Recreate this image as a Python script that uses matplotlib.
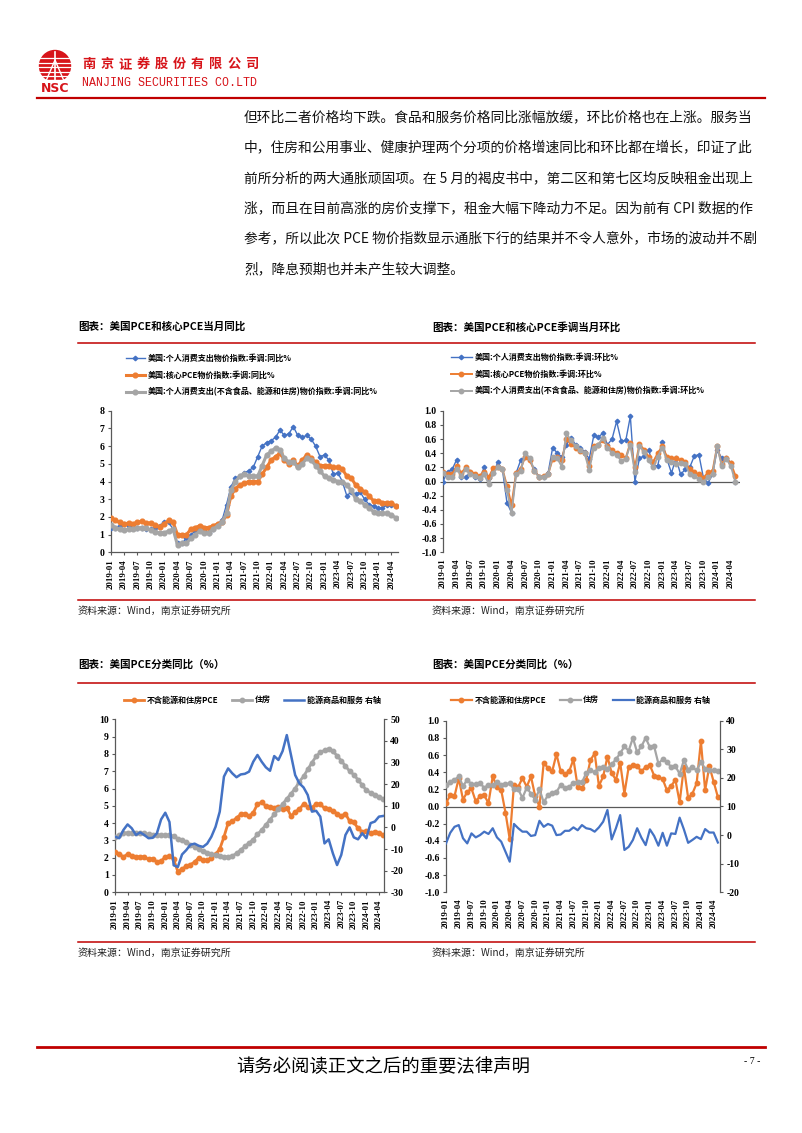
import matplotlib
matplotlib.use('Agg')
import matplotlib.pyplot as plt
from matplotlib.patches import Circle
import numpy as np

W, H = 802, 1133
fig = plt.figure(figsize=(8.02, 11.33), dpi=100)

CJK = ['Noto Sans CJK SC', 'DejaVu Sans']
SERIF = ['Liberation Serif', 'DejaVu Serif']
RED = '#C00000'
BLUE = '#4472C4'
ORANGE = '#ED7D31'
GRAY = '#A5A5A5'
AX = '#595959'

# ---------------- data ----------------
tick_labels = ['2019-01', '2019-04', '2019-07', '2019-10', '2020-01', '2020-04', '2020-07',
               '2020-10', '2021-01', '2021-04', '2021-07', '2021-10', '2022-01', '2022-04',
               '2022-07', '2022-10', '2023-01', '2023-04', '2023-07', '2023-10', '2024-01',
               '2024-04']
mom_ticks = [-1.0, -0.8, -0.6, -0.4, -0.2, 0.0, 0.2, 0.4, 0.6, 0.8, 1.0]

# chart 1: YoY %
pce_yoy = [1.4, 1.4, 1.5, 1.6, 1.5, 1.4, 1.4, 1.4, 1.3, 1.3, 1.4, 1.5,
           1.7, 1.7, 1.3, 0.5, 0.5, 0.8, 1.0, 1.2, 1.3, 1.2, 1.1, 1.3,
           1.6, 1.8, 2.7, 3.7, 4.2, 4.3, 4.5, 4.6, 4.8, 5.4, 6.0, 6.2,
           6.3, 6.5, 6.9, 6.6, 6.7, 7.1, 6.6, 6.5, 6.6, 6.4, 6.0, 5.4,
           5.5, 5.2, 4.4, 4.5, 4.0, 3.2, 3.4, 3.3, 3.4, 3.0, 2.7, 2.6,
           2.5, 2.5, 2.7, 2.7, 2.6]
core_yoy = [1.95, 1.8, 1.7, 1.6, 1.65, 1.6, 1.7, 1.75, 1.65, 1.65, 1.55, 1.45,
            1.6, 1.8, 1.7, 1.0, 1.0, 1.0, 1.3, 1.4, 1.5, 1.4, 1.4, 1.5,
            1.6, 1.7, 2.1, 3.2, 3.6, 3.8, 3.9, 4.0, 4.0, 4.0, 4.4, 4.8,
            5.2, 5.4, 5.6, 5.2, 5.0, 5.2, 4.9, 5.2, 5.5, 5.3, 5.1, 4.9,
            4.9, 4.9, 4.8, 4.8, 4.7, 4.3, 4.2, 3.8, 3.6, 3.4, 3.2, 2.9,
            2.9, 2.8, 2.8, 2.8, 2.6]
super_yoy = [1.55, 1.4, 1.3, 1.25, 1.3, 1.3, 1.35, 1.4, 1.35, 1.25, 1.15, 1.1,
             1.1, 1.2, 1.3, 0.4, 0.5, 0.5, 0.8, 1.0, 1.2, 1.1, 1.1, 1.3,
             1.5, 1.7, 2.2, 3.5, 4.0, 4.3, 4.4, 4.3, 4.3, 4.3, 4.9, 5.5,
             5.7, 5.9, 5.8, 5.3, 5.1, 5.1, 4.8, 5.0, 5.3, 5.2, 4.9, 4.6,
             4.3, 4.2, 4.1, 4.0, 4.0, 3.8, 3.5, 3.0, 2.9, 2.7, 2.5, 2.3,
             2.2, 2.2, 2.2, 2.1, 1.95]

# chart 2: MoM %
pce_mom = [0.00, 0.14, 0.17, 0.31, 0.06, 0.06, 0.14, 0.07, 0.03, 0.20, 0.05, 0.12,
           0.27, 0.17, -0.30, -0.44, 0.12, 0.30, 0.34, 0.30, 0.17, 0.07, 0.07, 0.12,
           0.48, 0.40, 0.35, 0.52, 0.62, 0.52, 0.48, 0.42, 0.32, 0.65, 0.63, 0.68,
           0.52, 0.60, 0.85, 0.57, 0.58, 0.92, 0.00, 0.33, 0.36, 0.45, 0.22, 0.22,
           0.56, 0.32, 0.12, 0.33, 0.10, 0.17, 0.20, 0.36, 0.38, 0.05, -0.02, 0.10,
           0.45, 0.33, 0.33, 0.26, 0.00]
core_mom = [0.14, 0.10, 0.10, 0.22, 0.12, 0.20, 0.14, 0.11, 0.08, 0.14, 0.06, 0.19,
            0.20, 0.18, -0.06, -0.33, 0.12, 0.18, 0.35, 0.30, 0.15, 0.07, 0.08, 0.10,
            0.32, 0.35, 0.30, 0.60, 0.53, 0.48, 0.43, 0.40, 0.22, 0.50, 0.52, 0.58,
            0.50, 0.45, 0.40, 0.38, 0.33, 0.55, 0.20, 0.53, 0.45, 0.35, 0.28, 0.40,
            0.50, 0.35, 0.33, 0.33, 0.30, 0.28, 0.17, 0.13, 0.10, 0.05, 0.13, 0.15,
            0.50, 0.25, 0.33, 0.26, 0.08]
super_mom = [0.12, 0.07, 0.06, 0.18, 0.08, 0.18, 0.10, 0.08, 0.05, 0.10, -0.03, 0.12,
             0.20, 0.18, -0.12, -0.45, 0.10, 0.15, 0.40, 0.33, 0.15, 0.06, 0.07, 0.10,
             0.35, 0.33, 0.21, 0.68, 0.58, 0.50, 0.45, 0.40, 0.16, 0.48, 0.52, 0.62,
             0.48, 0.40, 0.38, 0.29, 0.32, 0.52, 0.13, 0.50, 0.42, 0.30, 0.20, 0.35,
             0.48, 0.30, 0.28, 0.25, 0.26, 0.25, 0.10, 0.08, 0.03, 0.00, 0.06, 0.10,
             0.50, 0.22, 0.32, 0.22, -0.01]

# chart 3: category YoY %
exh_yoy = [2.35, 2.2, 2.05, 2.2, 2.1, 2.05, 2.05, 2.05, 1.9, 1.95, 1.75, 1.8,
           2.05, 2.1, 1.9, 1.2, 1.35, 1.5, 1.6, 1.75, 2.0, 1.85, 1.85, 2.0,
           2.2, 2.5, 3.2, 4.0, 4.1, 4.3, 4.5, 4.55, 4.4, 4.6, 5.1, 5.2,
           5.0, 4.95, 4.9, 4.95, 4.8, 4.9, 4.4, 4.65, 4.8, 5.1, 4.95, 4.9,
           5.1, 5.1, 4.85, 4.8, 4.7, 4.55, 4.4, 4.55, 4.1, 4.05, 3.7, 3.5,
           3.55, 3.4, 3.5, 3.4, 3.3]
housing_yoy = [3.2, 3.3, 3.4, 3.45, 3.4, 3.4, 3.4, 3.4, 3.35, 3.3, 3.3, 3.3,
               3.3, 3.3, 3.25, 3.1, 3.0, 2.9, 2.75, 2.6, 2.5, 2.4, 2.3, 2.2,
               2.15, 2.1, 2.05, 2.05, 2.1, 2.25, 2.45, 2.65, 2.85, 3.05, 3.35, 3.6,
               3.9, 4.2, 4.5, 4.8, 5.1, 5.4, 5.7, 6.0, 6.4, 6.7, 7.1, 7.5,
               7.85, 8.1, 8.2, 8.3, 8.15, 7.9, 7.6, 7.3, 7.0, 6.8, 6.5, 6.2,
               5.9, 5.75, 5.65, 5.5, 5.4]
energy_yoy = [-4.3, -5.0, -1.2, 1.4, -0.4, -3.5, -2.3, -3.5, -5.0, -4.8, -2.7, 3.7,
              6.8, 2.5, -17.5, -18.3, -12.5, -10.5, -8.0, -7.5, -8.5, -9.0, -7.5, -4.3,
              0.3, 7.3, 23.5, 27.3, 25.0, 23.2, 24.5, 24.8, 25.8, 30.4, 33.5, 30.4,
              27.8, 26.2, 33.0, 31.2, 35.3, 42.7, 33.5, 24.2, 20.4, 18.5, 15.0, 7.3,
              7.7, 5.0, -7.4, -5.5, -12.0, -17.4, -12.7, -3.5, 0.0, -4.6, -5.5, -2.7,
              -5.0, 2.0, 2.7, 5.0, 5.3]

# chart 4: category MoM %
exh_mom = [0.04, 0.13, 0.12, 0.33, 0.08, 0.17, 0.21, 0.06, 0.12, 0.13, 0.04, 0.35,
           0.23, 0.19, -0.07, -0.38, 0.25, 0.23, 0.33, 0.23, 0.35, 0.12, 0.00, 0.51,
           0.45, 0.41, 0.61, 0.41, 0.38, 0.41, 0.55, 0.23, 0.21, 0.31, 0.54, 0.62,
           0.24, 0.35, 0.58, 0.39, 0.31, 0.51, 0.15, 0.46, 0.48, 0.47, 0.41, 0.46,
           0.48, 0.36, 0.34, 0.32, 0.19, 0.24, 0.31, 0.05, 0.46, 0.10, 0.15, 0.27,
           0.76, 0.19, 0.47, 0.29, 0.11]
housing_mom = [0.25, 0.29, 0.31, 0.35, 0.24, 0.31, 0.26, 0.26, 0.27, 0.22, 0.25, 0.25,
               0.28, 0.25, 0.26, 0.27, 0.20, 0.20, 0.10, 0.22, 0.15, 0.08, 0.20, 0.05,
               0.13, 0.16, 0.17, 0.25, 0.22, 0.23, 0.27, 0.29, 0.28, 0.39, 0.42, 0.40,
               0.45, 0.46, 0.44, 0.49, 0.55, 0.62, 0.70, 0.65, 0.80, 0.63, 0.70, 0.80,
               0.69, 0.70, 0.50, 0.55, 0.52, 0.46, 0.47, 0.38, 0.54, 0.43, 0.46, 0.42,
               0.52, 0.44, 0.42, 0.42, 0.41]
energy_mom = [-2.9, 0.8, 2.9, 3.5, -1.1, -2.9, 0.6, -0.8, 0.0, 1.2, 0.4, 2.4,
              -0.8, -2.3, -5.8, -9.3, 3.9, 2.4, 1.2, 1.2, -0.3, 0.0, 5.0, 2.9,
              3.9, 3.3, 0.0, 0.2, 1.5, 1.5, 2.7, 1.7, 3.5, 2.4, 2.1, 1.2,
              2.7, 4.7, 8.8, -1.5, 2.4, 7.0, -5.2, -4.1, -1.7, 2.4, -0.9, -3.5,
              2.0, -0.3, -3.7, 0.8, -3.7, 0.6, 0.4, 6.1, 2.0, -2.7, -1.7, -0.6,
              -1.4, 2.1, 0.9, 0.9, -2.6]

# legend labels
leg1 = ['美国:个人消费支出物价指数:季调:同比%', '美国:核心PCE物价指数:季调:同比%',
        '美国:个人消费支出(不含食品、能源和住房)物价指数:季调:同比%']
leg2 = ['美国:个人消费支出物价指数:季调:环比%', '美国:核心PCE物价指数:季调:环比%',
        '美国:个人消费支出(不含食品、能源和住房)物价指数:季调:环比%']
leg3 = ['不含能源和住房PCE', '住房', '能源商品和服务 右轴']

body_lines = [
    '但环比二者价格均下跌。食品和服务价格同比涨幅放缓，环比价格也在上涨。服务当',
    '中，住房和公用事业、健康护理两个分项的价格增速同比和环比都在增长，印证了此',
    '前所分析的两大通胀顽固项。在 5 月的褐皮书中，第二区和第七区均反映租金出现上',
    '涨，而且在目前高涨的房价支撑下，租金大幅下降动力不足。因为前有 CPI 数据的作',
    '参考，所以此次 PCE 物价指数显示通胀下行的结果并不令人意外，市场的波动并不剧',
    '烈，降息预期也并未产生较大调整。',
]

# ---------------- page layer ----------------
page = fig.add_axes([0, 0, 1, 1])
page.set_xlim(0, W)
page.set_ylim(H, 0)
page.axis('off')

# logo
page.add_patch(Circle((55, 66), 15.5, color='#D7141A', zorder=2))
for yy in [58, 62.5, 67, 71.5, 76]:
    page.plot([38, 72], [yy, yy], color='white', lw=0.9, zorder=3)
page.plot([55, 55], [52, 81], color='white', lw=1.2, zorder=3)
page.plot([46, 55, 64], [81, 60, 81], color='white', lw=1.0, zorder=3)
page.fill_between([36, 74], 80, 83, color='white', zorder=4)
page.text(55, 88, 'NSC', ha='center', va='center', color='#D7141A', fontsize=9,
          fontweight='heavy', family=['DejaVu Sans'], zorder=5)
company = '南京证券股份有限公司'
for i, ch in enumerate(company):
    page.text(88.5 + 18.2 * i, 64, ch, ha='center', va='center', color='#D7141A',
              fontsize=9.5, fontweight='bold', family=CJK)
page.text(82, 83, 'NANJING SECURITIES CO.LTD', ha='left', va='center', color='#D7141A',
          fontsize=8.4, family=['Liberation Mono', 'DejaVu Sans Mono'])
page.plot([37, 765], [98, 98], color=RED, lw=1.6)

# body text
for i, ln in enumerate(body_lines):
    page.text(244, 117 + 30.4 * i, ln, ha='left', va='center', fontsize=9.9,
              family=CJK, color='#111111')

# chart frames
titles = [(78, 327, '图表：美国PCE和核心PCE当月同比'), (432, 327, '图表：美国PCE和核心PCE季调当月环比'),
          (78, 665, '图表：美国PCE分类同比（%）'), (432, 665, '图表：美国PCE分类同比（%）')]
for x0, y0, t in titles:
    page.text(x0, y0, t, ha='left', va='center', fontsize=7.6, fontweight='bold', family=CJK)
for yy in [343, 600, 683, 942]:
    page.plot([78, 755], [yy, yy], color=RED, lw=1.1)
for x0 in [78, 432]:
    for yy in [611, 953]:
        page.text(x0, yy, '资料来源：Wind，南京证券研究所', ha='left', va='center',
                  fontsize=7.2, family=CJK, color='#222222')

# footer
page.plot([37, 765], [1047, 1047], color=RED, lw=2.0)
page.text(383, 1067, '请务必阅读正文之后的重要法律声明', ha='center', va='center',
          fontsize=13.2, family=CJK)
page.text(752, 1062, '- 7 -', ha='center', va='center', fontsize=7, family=SERIF)


# ---------------- charts ----------------
def make_ax(l, r, t, b):
    return fig.add_axes([l / W, 1 - b / H, (r - l) / W, (b - t) / H])


x = np.arange(len(pce_yoy))
tick_pos = np.arange(0, 64, 3)


def base_style(ax, zero_line=False):
    ax.patch.set_alpha(0)
    for s in ['top', 'right']:
        ax.spines[s].set_visible(False)
    ax.spines['left'].set_color(AX)
    ax.spines['left'].set_linewidth(0.9)
    ax.spines['bottom'].set_color(AX)
    ax.spines['bottom'].set_linewidth(0.9)
    ax.set_xticks(tick_pos, tick_labels, rotation=90, fontsize=6.3,
                  fontweight='bold', family=SERIF)
    ax.tick_params(axis='x', length=2.5, width=0.8, color=AX, pad=2.5)
    ax.tick_params(axis='y', length=2.5, width=0.8, color=AX, pad=2)
    if zero_line:
        ax.spines['bottom'].set_visible(False)
        ax.axhline(0, color=AX, lw=0.9, zorder=1)
        ax.tick_params(axis='x', length=0, pad=4.5)


def set_y(ax, vals, fmt):
    ax.set_yticks(vals, [fmt.format(v) for v in vals], fontsize=7,
                  fontweight='bold', family=SERIF)


leg_prop = dict(family=CJK, size=5.8, weight='bold')

# Chart 1
ax1 = make_ax(110.7, 398, 410.7, 552.3)
l1, = ax1.plot(x, pce_yoy, color=BLUE, lw=1.0, marker='D', ms=2.3, zorder=3)
l2, = ax1.plot(x, core_yoy, color=ORANGE, lw=2.2, marker='o', ms=3.4, zorder=4)
l3, = ax1.plot(x, super_yoy, color=GRAY, lw=2.2, marker='o', ms=3.4, zorder=5)
ax1.set_xlim(0, 64.5)
ax1.set_ylim(0, 8)
base_style(ax1)
set_y(ax1, list(range(0, 9)), '{:d}')
fig.legend([l1, l2, l3], leg1, loc='upper left', bbox_to_anchor=(126 / W, 1 - 354 / H),
           frameon=False, prop=leg_prop, handlelength=2.3, handletextpad=0.35,
           labelspacing=0.95, borderpad=0, borderaxespad=0, numpoints=1)

# Chart 2
ax2 = make_ax(443, 740, 410.7, 552.3)
m1, = ax2.plot(x, pce_mom, color=BLUE, lw=1.0, marker='D', ms=2.3, zorder=3)
m2, = ax2.plot(x, core_mom, color=ORANGE, lw=1.4, marker='o', ms=3.2, zorder=4)
m3, = ax2.plot(x, super_mom, color=GRAY, lw=1.4, marker='o', ms=3.2, zorder=5)
ax2.set_xlim(0, 65)
ax2.set_ylim(-1, 1)
base_style(ax2, zero_line=True)
set_y(ax2, mom_ticks, '{:.1f}')
fig.legend([m1, m2, m3], leg2, loc='upper left', bbox_to_anchor=(451 / W, 1 - 353 / H),
           frameon=False, prop=leg_prop, handlelength=2.6, handletextpad=0.3,
           labelspacing=0.95, borderpad=0, borderaxespad=0, numpoints=1)

# Chart 3
ax3 = make_ax(115, 384, 719.3, 892.3)
ax3r = ax3.twinx()
c1, = ax3.plot(x, exh_yoy, color=ORANGE, lw=2.0, marker='o', ms=3.2, zorder=3)
c2, = ax3.plot(x, housing_yoy, color=GRAY, lw=2.0, marker='o', ms=3.2, zorder=4)
c3, = ax3r.plot(x, energy_yoy, color=BLUE, lw=1.8, zorder=5)
ax3.set_xlim(0, 64.2)
ax3.set_ylim(0, 10)
ax3r.set_ylim(-30, 50)
base_style(ax3)
set_y(ax3, list(range(0, 11)), '{:d}')
ax3r.patch.set_alpha(0)
for s in ['top', 'left', 'bottom']:
    ax3r.spines[s].set_visible(False)
ax3r.spines['right'].set_color(AX)
ax3r.spines['right'].set_linewidth(0.9)
ax3r.tick_params(axis='y', length=2.5, width=0.8, color=AX, pad=2)
set_y(ax3r, list(range(-30, 51, 10)), '{:d}')
fig.legend([c1, c2, c3], leg3, loc='center left', bbox_to_anchor=(124 / W, 1 - 700 / H),
           ncol=3, frameon=False, prop=leg_prop, handlelength=2.5, handletextpad=0.3,
           columnspacing=1.7, borderpad=0, borderaxespad=0, numpoints=1)

# Chart 4
ax4 = make_ax(446, 720, 720.7, 892.3)
ax4r = ax4.twinx()
d1, = ax4.plot(x, exh_mom, color=ORANGE, lw=1.6, marker='o', ms=3.2, zorder=3)
d2, = ax4.plot(x, housing_mom, color=GRAY, lw=1.6, marker='o', ms=3.2, zorder=4)
d3, = ax4r.plot(x, energy_mom, color=BLUE, lw=1.6, zorder=5)
ax4.set_xlim(0, 64.5)
ax4.set_ylim(-1, 1)
ax4r.set_ylim(-20, 40)
base_style(ax4, zero_line=True)
set_y(ax4, mom_ticks, '{:.1f}')
ax4r.patch.set_alpha(0)
for s in ['top', 'left', 'bottom']:
    ax4r.spines[s].set_visible(False)
ax4r.spines['right'].set_color(AX)
ax4r.spines['right'].set_linewidth(0.9)
ax4r.tick_params(axis='y', length=2.5, width=0.8, color=AX, pad=2)
set_y(ax4r, list(range(-20, 41, 10)), '{:d}')
fig.legend([d1, d2, d3], leg3, loc='center left', bbox_to_anchor=(451 / W, 1 - 700.7 / H),
           ncol=3, frameon=False, prop=leg_prop, handlelength=2.6, handletextpad=0.3,
           columnspacing=1.7, borderpad=0, borderaxespad=0, numpoints=1)

fig.savefig('out.png', dpi=100)
